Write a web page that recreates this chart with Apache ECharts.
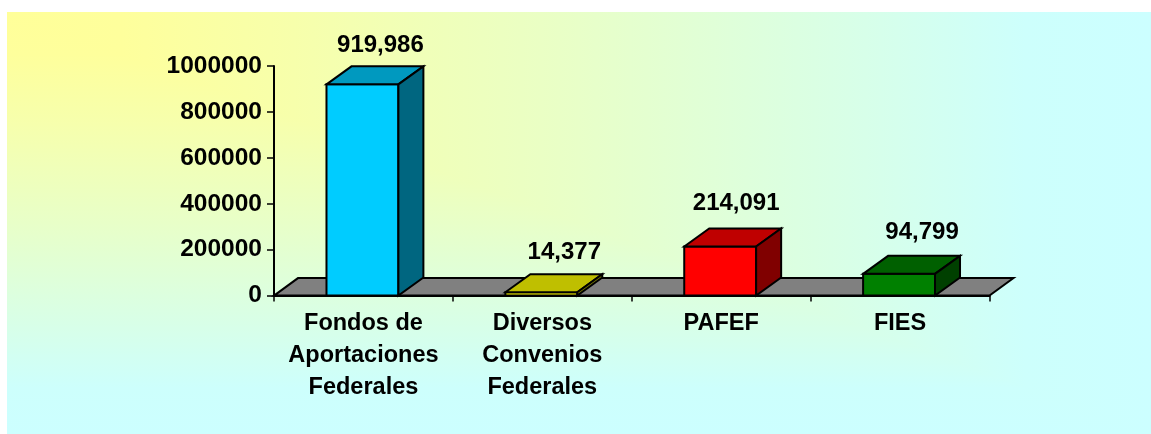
<!DOCTYPE html>
<html>
<head>
<meta charset="utf-8">
<style>html,body{margin:0;padding:0;background:#fff}#c{width:1151px;height:434px}</style>
<script src="https://cdn.jsdelivr.net/npm/echarts@6/dist/echarts.min.js"></script>
</head>
<body>
<div id="c"></div>
<script>
const categories = ['Fondos de\nAportaciones\nFederales', 'Diversos\nConvenios\nFederales', 'PAFEF', 'FIES'];
const values = [919986, 14377, 214091, 94799];
const frontColors = ['#00CCFF', '#FFFF00', '#FF0000', '#008000'];
const topColors = ['#0099BF', '#BFBF00', '#BF0000', '#006000'];
const sideColors = ['#006680', '#808000', '#800000', '#004000'];
const labelShift = [[18, 21], [23, 22], [16, 25], [23, 23]];

const FONT = '"Liberation Sans", Arial, sans-serif';
const DX = 25, DY = 18;

const chart = echarts.init(document.getElementById('c'), null, {renderer: 'canvas'});

function poly(points, fill) {
  return {type: 'polygon', shape: {points}, style: {fill, stroke: '#000', lineWidth: 2, lineJoin: 'miter'}};
}

function renderFloor(params, api) {
  const cs = params.coordSys;
  const y = cs.y + cs.height, x0 = cs.x, x1 = cs.x + cs.width;
  return poly([[x0, y], [x0 + 24, y - 17.5], [x1 + 24, y - 17.5], [x1, y]], '#808080');
}

function renderBar(params, api) {
  const i = params.dataIndex;
  const base = api.coord([i, 0]);
  const top = api.coord([i, api.value(1)]);
  const w = api.size([1, 0])[0] * 0.402;
  const xl = base[0] - w / 2 - 1, xr = xl + w;
  const yb = base[1], yt = top[1];
  return {
    type: 'group',
    children: [
      poly([[xl, yb], [xl, yt], [xr, yt], [xr, yb]], frontColors[i]),
      poly([[xl, yt], [xl + DX, yt - DY], [xr + DX, yt - DY], [xr, yt]], topColors[i]),
      poly([[xr, yb], [xr, yt], [xr + DX, yt - DY], [xr + DX, yb - DY]], sideColors[i]),
      {
        type: 'text',
        style: {
          x: (xl + xr) / 2 + labelShift[i][0],
          y: yt - DY - labelShift[i][1],
          text: values[i].toLocaleString('en-US'),
          fill: '#000',
          font: 'bold 24px ' + FONT,
          align: 'center',
          verticalAlign: 'middle'
        }
      }
    ]
  };
}

const BX = 7, BY = 12, W = 1144, H = 422;
const gradientStops = [
  {offset: 0, color: '#FFFF99'},
  {offset: 0.1, color: '#FEFF9C'},
  {offset: 0.25, color: '#F7FFAB'},
  {offset: 0.5, color: '#E8FFC8'},
  {offset: 0.75, color: '#D7FFE9'},
  {offset: 0.89, color: '#CDFFFC'},
  {offset: 1, color: '#CCFFFF'}
];

chart.setOption({
  animation: false,
  backgroundColor: 'transparent',
  graphic: {
    elements: [
      {
        type: 'rect', z: -10, silent: true,
        shape: {x: BX, y: BY, width: W, height: H},
        style: {fill: {type: 'linear', global: true, x: BX, y: BY, x2: BX + W, y2: BY, colorStops: gradientStops}}
      },
      {
        type: 'polygon', z: -9, silent: true,
        shape: {points: [[BX, BY], [BX + W, BY + H], [BX, BY + H]]},
        style: {fill: {type: 'linear', global: true, x: BX, y: BY, x2: BX, y2: BY + H, colorStops: gradientStops}}
      }
    ]
  },
  grid: {left: 274, top: 66, width: 715.5, height: 229.6},
  xAxis: {
    type: 'category', data: categories, z: 3,
    axisLine: {lineStyle: {color: '#000', width: 2}},
    axisTick: {show: true, length: 6, alignWithLabel: false, lineStyle: {color: '#000', width: 1.5}},
    axisLabel: {color: '#000', fontFamily: FONT, fontWeight: 'bold', fontSize: 23.5, lineHeight: 32, margin: 12, interval: 0}
  },
  yAxis: {
    type: 'value', min: 0, max: 1000000, interval: 200000, z: 3,
    splitLine: {show: false},
    axisLine: {show: true, lineStyle: {color: '#000', width: 2}},
    axisTick: {show: true, length: 7, lineStyle: {color: '#000', width: 1.5}},
    axisLabel: {color: '#000', fontFamily: FONT, fontWeight: 'bold', fontSize: 24.5, margin: 12,
      formatter: (v) => String(v)}
  },
  series: [
    {type: 'custom', z: 1, silent: true, clip: false, renderItem: renderFloor, data: [[0, 0]]},
    {type: 'custom', z: 4, silent: true, clip: false, renderItem: renderBar,
      encode: {x: 0, y: 1},
      data: values.map((v, i) => [i, v])}
  ]
});
</script>
</body>
</html>
